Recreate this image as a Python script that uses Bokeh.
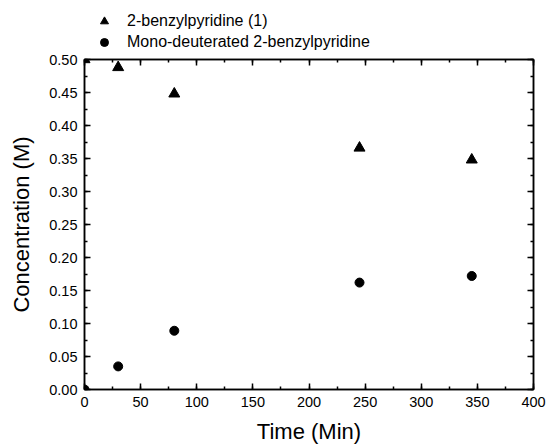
from bokeh.plotting import figure
from bokeh.layouts import column
from bokeh.models import (LinearAxis, SingleIntervalTicker, NumeralTickFormatter,
                          Legend, LegendItem, Range1d)
from bokeh.embed import file_html
from bokeh.resources import INLINE

# ---- data ----
time_tri = [0, 30, 80, 245, 345]
conc_tri = [0.500, 0.488, 0.448, 0.366, 0.348]
time_circ = [0, 30, 80, 245, 345]
conc_circ = [0.000, 0.035, 0.089, 0.162, 0.172]
label_tri = "2-benzylpyridine (1)"
label_circ = "Mono-deuterated 2-benzylpyridine"
x_title = "Time (Min)"
y_title = "Concentration (M)"

FONT = "Liberation Sans"
LEG_H = 52

p = figure(width=548, height=446 - LEG_H, output_backend="svg", toolbar_location=None,
           x_range=Range1d(0, 400), y_range=Range1d(0, 0.5),
           x_axis_type=None, y_axis_type=None,
           min_border_left=84, min_border_right=15, min_border_top=7, min_border_bottom=57)
p.xgrid.visible = False
p.ygrid.visible = False
p.outline_line_color = "black"
p.outline_line_width = 1.5
p.background_fill_color = "white"
p.border_fill_color = "white"

xt = SingleIntervalTicker(interval=50, num_minor_ticks=2)
yt = SingleIntervalTicker(interval=0.05, num_minor_ticks=2)

def style(ax, labels=True):
    ax.axis_line_color = "black"
    ax.axis_line_width = 1.5
    ax.major_tick_line_color = "black"
    ax.major_tick_line_width = 1.5
    ax.minor_tick_line_color = "black"
    ax.minor_tick_line_width = 1.5
    ax.major_tick_in = 6
    ax.major_tick_out = 0
    ax.minor_tick_in = 3
    ax.minor_tick_out = 0
    ax.major_label_text_font = FONT
    ax.major_label_text_color = "black"
    ax.axis_label_text_font = FONT
    ax.axis_label_text_font_style = "normal"
    ax.axis_label_text_color = "black"
    if labels:
        ax.major_label_text_font_size = "14.5px"
        ax.axis_label_text_font_size = "22px"
    else:
        ax.major_label_text_font_size = "1px"
        ax.major_label_text_color = None
        ax.major_label_standoff = 0

xb = LinearAxis(ticker=xt, axis_label=x_title)
style(xb)
xb.major_label_standoff = 7
xb.axis_label_standoff = 9
xb.axis_label_text_line_height = 0.9
p.add_layout(xb, "below")

yl = LinearAxis(ticker=yt, axis_label=y_title, formatter=NumeralTickFormatter(format="0.00"))
style(yl)
yl.major_label_standoff = 7
yl.axis_label_standoff = 12
p.add_layout(yl, "left")

xa = LinearAxis(ticker=xt)
style(xa, labels=False)
p.add_layout(xa, "above")

yr = LinearAxis(ticker=yt)
style(yr, labels=False)
p.add_layout(yr, "right")

p.scatter(time_tri, conc_tri, marker="triangle", size=11, color="black")
p.scatter(time_circ, conc_circ, marker="circle", size=9, color="black")

# ---- legend strip above the plot (same series; its ranges keep the points out of view) ----
lf = figure(width=548, height=LEG_H, output_backend="svg", toolbar_location=None,
            x_range=Range1d(1000, 1001), y_range=Range1d(1000, 1001),
            x_axis_type=None, y_axis_type=None,
            min_border_left=0, min_border_right=0, min_border_top=0, min_border_bottom=0)
lf.xgrid.visible = False
lf.ygrid.visible = False
lf.outline_line_color = None
lf_tri = lf.scatter(time_tri, conc_tri, marker="triangle", size=11, color="black")
lf_circ = lf.scatter(time_circ, conc_circ, marker="circle", size=9, color="black")
legend = Legend(items=[LegendItem(label=label_tri, renderers=[lf_tri]),
                       LegendItem(label=label_circ, renderers=[lf_circ])],
                location=(10, 0), padding=0, margin=0, spacing=1,
                glyph_width=20, glyph_height=20, label_height=20,
                label_standoff=13, label_text_font=FONT, label_text_font_size="16px",
                label_text_color="black", border_line_color=None,
                background_fill_alpha=0)
lf.add_layout(legend, "center")

layout = column(lf, p, spacing=0)
open("out.html", "w").write(file_html(layout, INLINE))
